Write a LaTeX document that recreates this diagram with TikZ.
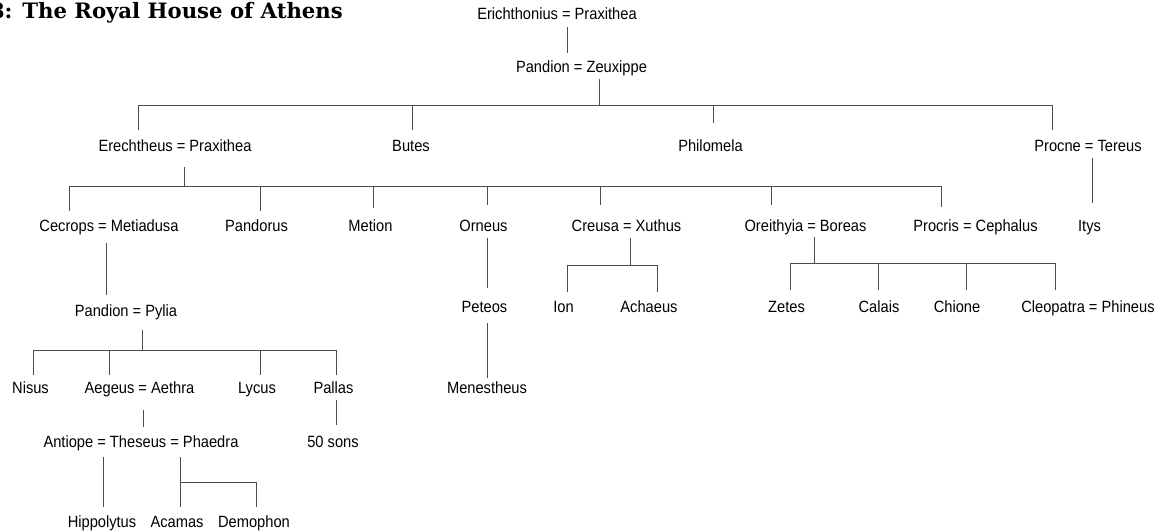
\documentclass[tikz,border=0pt]{standalone}
\usepackage{fontspec}
\newfontfamily\lab[FakeStretch=0.9]{Liberation Sans}
\newfontfamily\ttl{DejaVu Serif}
% vertical segment: name, x, y1, y2
\newcommand\vseg[4]{\coordinate (#1-a) at (#2,#3); \coordinate (#1-b) at (#2,#4); \draw[ln] (#1-a) -- (#1-b);}
% horizontal bus: name, y, x1, x2
\newcommand\hbus[4]{\coordinate (#1-a) at (#3,#2); \coordinate (#1-b) at (#4,#2); \draw[ln] (#1-a) -- (#1-b);}
\begin{document}
\begin{tikzpicture}[x=1pt,y=-1pt,
  lbl/.style={font=\lab\fontsize{16.3}{18}\selectfont, anchor=base, inner sep=0pt},
  ln/.style={draw=black!70, line width=0.65pt},
  ttlstyle/.style={font=\ttl\bfseries\fontsize{21.2}{24}\selectfont, anchor=base east, inner sep=0pt}]
\useasboundingbox (0,0) rectangle (1163,532);

\node[ttlstyle] (title) at (343,19) {8: The Royal House of Athens};

% generation 1-2
\node[lbl] (eri) at (557,20) {Erichthonius = Praxithea};
\node[lbl] (pz) at (581.5,72.5) {Pandion = Zeuxippe};
% generation 3
\node[lbl] (ere) at (175,152) {Erechtheus = Praxithea};
\node[lbl] (but) at (411,152) {Butes};
\node[lbl] (phi) at (710.5,152) {Philomela};
\node[lbl] (pro) at (1088,152) {Procne = Tereus};
% generation 4
\node[lbl] (cec) at (109,232) {Cecrops = Metiadusa};
\node[lbl] (pnd) at (256.5,232) {Pandorus};
\node[lbl] (met) at (370.5,232) {Metion};
\node[lbl] (orn) at (483.5,232) {Orneus};
\node[lbl] (cre) at (626.5,232) {Creusa = Xuthus};
\node[lbl] (ori) at (805.5,232) {Oreithyia = Boreas};
\node[lbl] (prc) at (975.5,232) {Procris = Cephalus};
\node[lbl] (ity) at (1089.5,232) {Itys};
% generation 5
\node[lbl] (ppy) at (126,316) {Pandion = Pylia};
\node[lbl] (pet) at (484.5,312) {Peteos};
\node[lbl] (ion) at (563.5,312) {Ion};
\node[lbl] (ach) at (649,312) {Achaeus};
\node[lbl] (zet) at (786.5,312) {Zetes};
\node[lbl] (cal) at (879,312) {Calais};
\node[lbl] (chi) at (957,312) {Chione};
\node[lbl] (cle) at (1088,312) {Cleopatra = Phineus};
% generation 6
\node[lbl] (nis) at (30.5,393) {Nisus};
\node[lbl] (aeg) at (139.5,393) {Aegeus = Aethra};
\node[lbl] (lyc) at (257,393) {Lycus};
\node[lbl] (pal) at (333.5,393) {Pallas};
\node[lbl] (men) at (487,393) {Menestheus};
% generation 7
\node[lbl] (ant) at (141,447) {Antiope = Theseus = Phaedra};
\node[lbl] (fif) at (333,447) {50 sons};
% generation 8
\node[lbl] (hip) at (102,527) {Hippolytus};
\node[lbl] (aca) at (177,527) {Acamas};
\node[lbl] (dem) at (254,527) {Demophon};

% --- connectors ---
\vseg{eripz}{567}{27}{53}
\vseg{pzd}{599}{79}{105}
\hbus{bus1}{105}{138}{1052}
\vseg{ereu}{138}{105}{130}
\vseg{butu}{412}{105}{130}
\vseg{phiu}{713}{105}{123}
\vseg{prou}{1052}{105}{130}

\vseg{pro-ity}{1092}{158}{203}

\vseg{ered}{184}{167}{186}
\hbus{bus2}{186}{69}{941}
\vseg{cecu}{69}{186}{211}
\vseg{pndu}{260}{186}{211}
\vseg{metu}{373}{186}{208}
\vseg{ornu}{487}{186}{205}
\vseg{creu}{600}{186}{205}
\vseg{oriu}{771}{186}{205}
\vseg{prcu}{941}{186}{207}

\vseg{cec-ppy}{106}{243}{295}
\vseg{orn-pet}{487}{238}{288}
\vseg{pet-men}{487}{323}{378}

\vseg{cred}{630}{238}{265}
\hbus{bus3}{265}{567}{657}
\vseg{ionu}{567}{265}{292}
\vseg{achu}{657}{265}{292}

\vseg{orid}{814}{237}{263}
\hbus{bus4}{263}{790}{1055}
\vseg{zetu}{790}{263}{290}
\vseg{calu}{878}{263}{290}
\vseg{chiu}{966}{263}{290}
\vseg{cleu}{1055}{263}{290}

\vseg{ppyd}{142}{330}{350}
\hbus{bus5}{350}{33}{336}
\vseg{nisu}{33}{350}{375}
\vseg{aegu}{109}{350}{375}
\vseg{lycu}{260}{350}{375}
\vseg{palu}{336}{350}{375}

\vseg{aeg-ant}{143}{410}{427}
\vseg{pal-fif}{336}{400}{425}

\vseg{ant-hip}{103}{457}{507}
\vseg{antd}{180}{457}{507}
\hbus{bus6}{482}{180}{256}
\vseg{demu}{256}{482}{507}
\end{tikzpicture}
\end{document}
